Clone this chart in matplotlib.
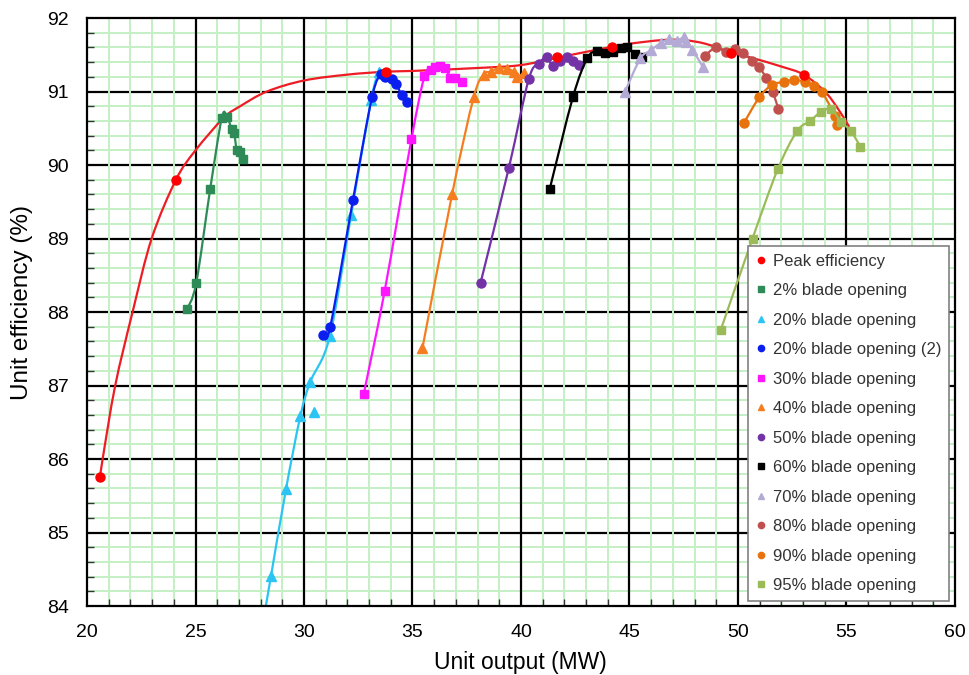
import numpy as np
import matplotlib
matplotlib.use("Agg")
import matplotlib.pyplot as plt
from matplotlib.path import Path
from matplotlib.patches import PathPatch
from matplotlib.lines import Line2D
from matplotlib.ticker import MultipleLocator

plt.rcParams['font.family'] = ['Liberation Sans', 'DejaVu Sans']

# ---------------- data ----------------
peak_x = [20.6, 24.1, 33.78, 41.67, 44.21, 49.7, 53.03]
peak_y = [85.75, 89.8, 91.27, 91.47, 91.61, 91.52, 91.23]

peak_curve_x = [20.6, 20.72, 21.3, 22.1, 22.98, 24.1, 25.0, 26.29, 27.06, 28.29, 30.0,
                32.0, 33.78, 35.0, 38.0, 40.0, 42.0, 44.21, 45.0, 46.5, 47.5, 48.5,
                49.7, 50.5, 52.0, 53.03, 54.0, 54.6, 55.13]
peak_curve_y = [85.75, 86.0, 87.0, 88.0, 89.0, 89.8, 90.2, 90.64, 90.8, 91.0, 91.15,
                91.23, 91.27, 91.28, 91.32, 91.36, 91.48, 91.61, 91.65, 91.7, 91.7, 91.65,
                91.53, 91.47, 91.34, 91.23, 91.0, 90.77, 90.52]

s2_x = [24.6, 25.03, 25.68, 26.21, 26.44, 26.67, 26.78, 26.9, 27.06, 27.21]
s2_y = [88.04, 88.39, 89.68, 90.64, 90.66, 90.49, 90.44, 90.21, 90.18, 90.08]

s20_x = [27.95, 28.48, 29.17, 29.83, 30.45, 30.29, 31.19, 32.17, 33.09, 33.44]
s20_y = [83.5, 84.41, 85.59, 86.58, 86.64, 87.05, 87.67, 89.32, 90.88, 91.27]
s20_on_line = [True, True, True, True, False, True, True, True, True, True]

s20b_x = [30.88, 31.21, 32.26, 33.14, 33.57, 33.75, 34.05, 34.26, 34.5, 34.75]
s20b_y = [87.69, 87.8, 89.53, 90.93, 91.24, 91.2, 91.17, 91.1, 90.95, 90.86]

s30_x = [32.75, 33.72, 34.95, 35.55, 35.83, 36.06, 36.29, 36.52, 36.75, 36.98, 37.29]
s30_y = [86.88, 88.29, 90.35, 91.21, 91.29, 91.34, 91.35, 91.32, 91.19, 91.18, 91.13]

s40_x = [35.46, 36.83, 37.82, 38.28, 38.62, 38.98, 39.37, 39.67, 39.83, 40.13]
s40_y = [87.51, 89.61, 90.92, 91.23, 91.27, 91.32, 91.31, 91.27, 91.2, 91.25]

s50_x = [38.14, 39.44, 40.36, 40.83, 41.18, 41.46, 41.79, 42.1, 42.38, 42.67]
s50_y = [88.4, 89.96, 91.17, 91.38, 91.47, 91.35, 91.41, 91.47, 91.41, 91.36]

s60_x = [41.33, 42.39, 43.05, 43.5, 43.88, 44.24, 44.6, 44.9, 45.27, 45.6]
s60_y = [89.68, 90.92, 91.45, 91.55, 91.52, 91.54, 91.59, 91.6, 91.51, 91.47]

s70_x = [44.8, 45.5, 45.98, 46.44, 46.83, 47.18, 47.52, 47.6, 47.9, 48.37]
s70_y = [91.0, 91.45, 91.56, 91.66, 91.71, 91.69, 91.74, 91.68, 91.57, 91.34]

s80_x = [48.47, 49.0, 49.44, 49.87, 50.25, 50.65, 50.98, 51.31, 51.6, 51.86]
s80_y = [91.49, 91.6, 91.54, 91.58, 91.53, 91.41, 91.33, 91.18, 91.0, 90.76]

s90_x = [50.27, 50.98, 51.57, 52.1, 52.6, 53.09, 53.52, 53.88, 54.47, 54.56]
s90_y = [90.57, 90.92, 91.09, 91.13, 91.16, 91.13, 91.08, 90.99, 90.67, 90.55]

s95_x = [49.21, 50.67, 51.83, 52.72, 53.33, 53.81, 54.29, 54.75, 55.21, 55.64]
s95_y = [87.76, 89.0, 89.94, 90.46, 90.6, 90.72, 90.76, 90.59, 90.46, 90.25]

labels = ["Peak efficiency", "2% blade opening", "20% blade opening",
          "20% blade opening (2)", "30% blade opening", "40% blade opening",
          "50% blade opening", "60% blade opening", "70% blade opening",
          "80% blade opening", "90% blade opening", "95% blade opening"]

x_ticks = [20, 25, 30, 35, 40, 45, 50, 55, 60]
y_ticks = [84, 85, 86, 87, 88, 89, 90, 91, 92]


# ---------------- helpers ----------------
def smooth_path(xs, ys):
    """Excel-like smoothed line (Catmull-Rom as cubic Bezier)."""
    pts = np.column_stack([xs, ys]).astype(float)
    n = len(pts)
    verts = [pts[0]]
    codes = [Path.MOVETO]
    for i in range(n - 1):
        p0 = pts[i - 1] if i > 0 else pts[i]
        p1 = pts[i]
        p2 = pts[i + 1]
        p3 = pts[i + 2] if i + 2 < n else pts[i + 1]
        c1 = p1 + (p2 - p0) / 6.0
        c2 = p2 - (p3 - p1) / 6.0
        verts += [c1, c2, p2]
        codes += [Path.CURVE4] * 3
    return Path(verts, codes)


fig = plt.figure(figsize=(9.69, 6.75), dpi=100)
ax = fig.add_axes([0.0898, 0.1022, 0.8957, 0.8711])

ax.set_xlim(20, 60)
ax.set_ylim(84, 92)
ax.set_xticks(x_ticks)
ax.set_yticks(y_ticks)
ax.xaxis.set_minor_locator(MultipleLocator(1))
ax.yaxis.set_minor_locator(MultipleLocator(0.2))

# gridlines in Excel-like stacking order
green = '#c4f0c4'
for yv in y_ticks[1:-1]:
    ax.axhline(yv, color='black', linewidth=1.6, zorder=0.5)
for xv in np.arange(21, 60, 1):
    if xv % 5:
        ax.axvline(xv, color=green, linewidth=1.4, zorder=0.6)
for yv in np.arange(84.2, 91.9, 0.2):
    if abs(yv - round(yv)) > 0.05:
        ax.axhline(yv, color=green, linewidth=1.4, zorder=0.7)
for xv in x_ticks[1:-1]:
    ax.axvline(xv, color='black', linewidth=1.6, zorder=0.8)

ax.tick_params(which='major', direction='in', length=0, pad=13, labelsize=14)
ax.tick_params(which='minor', direction='in', length=5, width=1, color='#333333')
for sp in ax.spines.values():
    sp.set_linewidth(1.6)
    sp.set_color('black')
    sp.set_zorder(40)

series = [
    (s2_x, s2_y, '#2e8b57', 's', 6, None),
    (s20_x, s20_y, '#2cc4f2', '^', 7, s20_on_line),
    (s20b_x, s20b_y, '#0a1ef0', 'o', 6.5, None),
    (s30_x, s30_y, '#ff14ff', 's', 6, None),
    (s40_x, s40_y, '#f57d20', '^', 7, None),
    (s50_x, s50_y, '#7332a6', 'o', 6.5, None),
    (s60_x, s60_y, '#000000', 's', 6, None),
    (s70_x, s70_y, '#b4aad6', '^', 7, None),
    (s80_x, s80_y, '#c0504d', 'o', 6.5, None),
    (s90_x, s90_y, '#e8720c', 'o', 6.5, None),
    (s95_x, s95_y, '#9bbb59', 's', 6, None),
]

# peak efficiency curve
ax.add_patch(PathPatch(smooth_path(peak_curve_x, peak_curve_y), facecolor='none',
                       edgecolor='#ee1c24', linewidth=1.6, zorder=2))

handles = [Line2D([], [], linestyle='none', marker='o', color='#ff0000',
                  markersize=4.5)]
for k, (xs, ys, col, mk, ms, onl) in enumerate(series):
    if onl is not None:
        lx = [x for x, f in zip(xs, onl) if f]
        ly = [y for y, f in zip(ys, onl) if f]
    else:
        lx, ly = xs, ys
    ax.add_patch(PathPatch(smooth_path(lx, ly), facecolor='none', edgecolor=col,
                           linewidth=1.6, zorder=3 + k))
    ax.plot(xs, ys, linestyle='none', marker=mk, color=col, markersize=ms,
            zorder=3.5 + k)
    handles.append(Line2D([], [], linestyle='none', marker=mk, color=col,
                          markersize=4.5))

ax.plot(peak_x, peak_y, linestyle='none', marker='o', color='#ff0000',
        markersize=6.5, zorder=20)

fig.text(520 / 969, 1 - 662 / 675, 'Unit output (MW)', fontsize=16.5,
         ha='center', va='center')
fig.text(22 / 969, 1 - 302 / 675, 'Unit efficiency (%)', fontsize=17.5,
         ha='center', va='center', rotation=90)

leg = ax.legend(handles, labels, loc='upper left', bbox_to_anchor=(0.7615, 0.6122),
                borderaxespad=0, fontsize=12, labelspacing=0.87,
                handlelength=0.7, handletextpad=0.35, borderpad=0.45,
                frameon=True, fancybox=False, edgecolor='#808080', framealpha=1)
leg.get_frame().set_linewidth(1.2)
for t in leg.get_texts():
    t.set_color('#333333')
leg.set_zorder(30)

fig.savefig('out.png', dpi=100)
